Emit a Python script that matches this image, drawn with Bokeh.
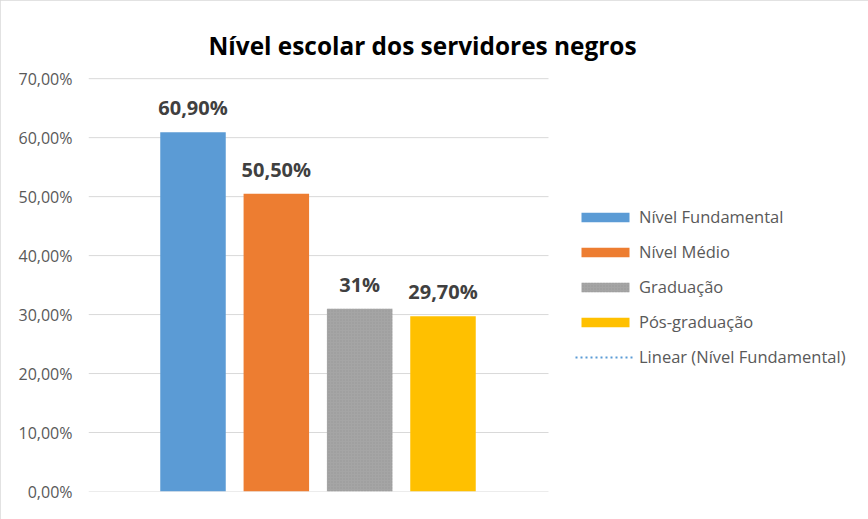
from bokeh.plotting import figure
from bokeh.models import (ColumnDataSource, Range1d, Legend, LegendItem,
                          CustomJSTickFormatter, FixedTicker, LabelSet)
from bokeh.core.properties import value
from bokeh.embed import file_html
from bokeh.resources import INLINE

title_text = "Nível escolar dos servidores negros"
categories = ["Nível Fundamental", "Nível Médio", "Graduação", "Pós-graduação"]
values = [60.9, 50.5, 31.0, 29.7]
value_labels = ["60,90%", "50,50%", "31%", "29,70%"]
colors = ["#5b9bd5", "#ed7d31", "#a5a5a5", "#ffc000"]
hatches = [" ", " ", ".", " "]
y_ticks = [0, 10, 20, 30, 40, 50, 60, 70]
trend_label = "Linear (Nível Fundamental)"

FONT = "Open Sans"

src = ColumnDataSource(dict(x=list(range(len(categories))), top=values,
                            label=value_labels, color=colors, hatch=hatches,
                            cat=categories))
trend_src = ColumnDataSource(dict(x=[0], y=[values[0]]))

X0, X1 = -1.254, 4.266   # plot-area extent (bars region)
X_END = 7.95             # frame extends under the legend

grid_src = ColumnDataSource(dict(y=y_ticks, x0=[X0] * len(y_ticks),
                                 x1=[X1] * len(y_ticks)))

p = figure(width=868, height=519, output_backend="svg", toolbar_location=None,
           x_range=Range1d(X0, X_END), y_range=Range1d(0, 70.2),
           min_border_left=88, min_border_right=13, min_border_top=77,
           min_border_bottom=28)
p.styles = {"outline": "1px solid #d9d9d9", "outline-offset": "-1px"}

p.title.text = title_text
p.title.text_font = FONT
p.title.text_font_size = "24.4px"
p.title.text_font_style = "bold"
p.title.text_color = "#000000"
p.title.align = "left"
p.title.offset = 120
p.title.standoff = 31

p.segment(x0="x0", x1="x1", y0="y", y1="y", source=grid_src,
          line_color="#d9d9d9", line_width=1, level="underlay")

bars = p.vbar(x="x", top="top", bottom=0, width=0.786, fill_color="color",
              line_color=None, hatch_pattern="hatch", hatch_color="#8c8c8c",
              hatch_scale=3, hatch_weight=1, hatch_alpha=0.6, source=src)

labels = LabelSet(x="x", y="top", text="label", source=src, text_align="center",
                  text_baseline="bottom", y_offset=11, text_font=value(FONT),
                  text_font_size="20px", text_font_style="bold", text_color="#404040")
p.add_layout(labels)

trend = p.line(x="x", y="y", source=trend_src, line_color="#5b9bd5",
               line_dash="2 3", line_width=2)

items = [LegendItem(label=c, renderers=[bars], index=i) for i, c in enumerate(categories)]
items.append(LegendItem(label=trend_label, renderers=[trend]))
legend = Legend(items=items, location=(487, 123), glyph_width=60, glyph_height=12,
                label_height=23, spacing=12, label_standoff=4, padding=0, margin=0,
                border_line_color=None, background_fill_alpha=0,
                label_text_font=FONT, label_text_font_size="16.5px",
                label_text_color="#595959")
p.add_layout(legend)

p.xaxis.visible = False
p.xgrid.visible = False
p.ygrid.visible = False
p.yaxis.ticker = FixedTicker(ticks=y_ticks)
p.yaxis.formatter = CustomJSTickFormatter(code="return tick.toFixed(2).replace('.', ',') + '%';")
p.yaxis.axis_line_color = None
p.yaxis.major_tick_line_color = None
p.yaxis.minor_tick_line_color = None
p.yaxis.major_label_standoff = 10
p.yaxis.major_label_text_font = FONT
p.yaxis.major_label_text_font_size = "16px"
p.yaxis.major_label_text_color = "#595959"
p.outline_line_color = None

open("out.html", "w").write(file_html(p, INLINE))
